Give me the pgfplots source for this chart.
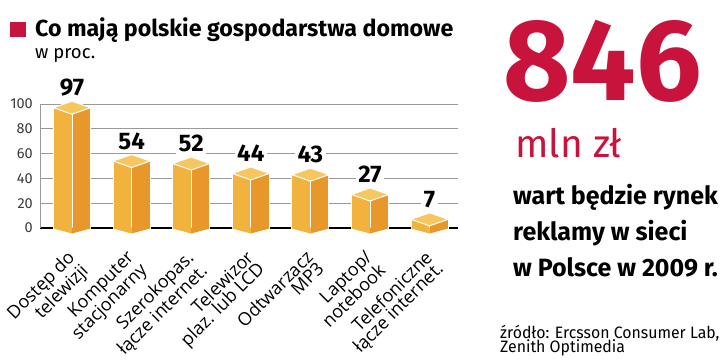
\documentclass[border=0pt]{standalone}
\usepackage{fontspec}
\usepackage{pgfplots}
\pgfplotsset{compat=1.18}
\setmainfont{Fira Sans}
\newfontfamily\opensans{Open Sans}
\definecolor{barL}{HTML}{F2B23E}
\definecolor{barR}{HTML}{E8982A}
\definecolor{barT}{HTML}{F7C65E}
\definecolor{crim}{HTML}{C8143C}
\definecolor{gridc}{HTML}{9A9A9A}
\definecolor{tickc}{HTML}{3A3A3A}
\pgfdeclareplotmark{cubetop}{%
  \pgfpathmoveto{\pgfpoint{-18.5bp}{0bp}}%
  \pgfpathlineto{\pgfpoint{0bp}{6.5bp}}%
  \pgfpathlineto{\pgfpoint{18.5bp}{0bp}}%
  \pgfpathlineto{\pgfpoint{0bp}{-6.5bp}}%
  \pgfpathclose
  \pgfusepath{fill,stroke}}
\pgfdeclareplotmark{cubebot}{%
  \pgfsetfillcolor{barL}%
  \pgfpathmoveto{\pgfpoint{-18.5bp}{0.5bp}}%
  \pgfpathlineto{\pgfpoint{0bp}{0.5bp}}%
  \pgfpathlineto{\pgfpoint{0bp}{-5.5bp}}%
  \pgfpathlineto{\pgfpoint{-18.5bp}{-0.5bp}}%
  \pgfpathclose
  \pgfusepath{fill}%
  \pgfsetfillcolor{barR}%
  \pgfpathmoveto{\pgfpoint{18.5bp}{0.5bp}}%
  \pgfpathlineto{\pgfpoint{0bp}{0.5bp}}%
  \pgfpathlineto{\pgfpoint{0bp}{-5.5bp}}%
  \pgfpathlineto{\pgfpoint{18.5bp}{-0.5bp}}%
  \pgfpathclose
  \pgfusepath{fill}}
\begin{document}
\begin{tikzpicture}
\useasboundingbox (0,0) rectangle (720bp,364bp);
% header
\fill[crim] (10bp,327bp) rectangle (26bp,342bp);
\node[anchor=base west, inner sep=0pt, font=\bfseries\fontsize{23.2bp}{26bp}\selectfont] at (35bp,327bp) {Co mają polskie gospodarstwa domowe};
\node[anchor=base west, inner sep=0pt, font=\fontsize{18.5bp}{20bp}\selectfont] at (35bp,305bp) {w proc.};
% right block
\node[anchor=base west, inner sep=0pt, text=crim, font=\bfseries\fontsize{116bp}{118bp}\selectfont] at (503bp,263bp) {846};
\node[anchor=base west, inner sep=0pt, text=crim, font=\fontsize{39bp}{40bp}\selectfont] at (515bp,206bp) {mln zł};
\node[anchor=base west, inner sep=0pt, font=\bfseries\fontsize{25bp}{28bp}\selectfont] at (513bp,159bp) {wart będzie rynek};
\node[anchor=base west, inner sep=0pt, font=\bfseries\fontsize{25bp}{28bp}\selectfont] at (513bp,123bp) {reklamy w sieci};
\node[anchor=base west, inner sep=0pt, font=\bfseries\fontsize{25bp}{28bp}\selectfont] at (513bp,87bp) {w Polsce w 2009 r.};
\node[anchor=base west, inner sep=0pt, font=\fontsize{16.5bp}{16bp}\selectfont] at (500bp,26bp) {\scalebox{0.96}[1]{źródło: Ercsson Consumer Lab,}};
\node[anchor=base west, inner sep=0pt, font=\fontsize{16.5bp}{16bp}\selectfont] at (500bp,12bp) {\scalebox{0.96}[1]{Zenith Optimedia}};
\begin{axis}[
  at={(40bp,136bp)}, anchor=south west,
  scale only axis, width=418bp, height=124bp,
  xmin=-0.537, xmax=6.477, ymin=0, ymax=100,
  clip=false,
  axis lines=left,
  axis line style={-},
  x axis line style={black, line width=1.8bp},
  y axis line style={gridc, line width=0.6bp},
  ymajorgrids, grid style={gridc, line width=0.7bp},
  major tick length=0pt,
  ytick={0,20,40,60,80,100},
  xtick={0,1,2,3,4,5,6},
  xticklabels={{Dostęp do\\telewizji},{Komputer\\stacjonarny},{Szerokopas.\\łącze internet.},{Telewizor\\plaz. lub LCD},{Odtwarzacz\\MP3},{Laptop/\\notebook},{Telefoniczne\\łącze internet.}},
  xticklabel style={xshift=-6bp, yshift=-21bp, rotate=45, anchor=north east, align=right, inner sep=0pt, font=\opensans\fontsize{18bp}{15.5bp}\selectfont, text=black},
  yticklabel style={anchor=east, inner sep=0pt, xshift=-7bp, font=\fontsize{14.5bp}{14bp}\selectfont, text=tickc},
  /pgf/number format/assume math mode=true,
]
\addplot[ybar, bar width=18.5bp, bar shift=-9.25bp, fill=barL, draw=white, line width=0.8bp] coordinates {(0,97) (1,54) (2,52) (3,44) (4,43) (5,27) (6,7)};
\addplot[ybar, bar width=18.5bp, bar shift=9.25bp, fill=barR, draw=white, line width=0.8bp] coordinates {(0,97) (1,54) (2,52) (3,44) (4,43) (5,27) (6,7)};
\addplot[only marks, mark=cubebot] coordinates {(0,0) (1,0) (2,0) (3,0) (4,0) (5,0) (6,0)};
\addplot[only marks, mark=cubetop, mark options={fill=barT, draw=white, line width=1bp},
  point meta=y, nodes near coords,
  every node near coord/.style={anchor=base, yshift=12bp, fill=white, inner sep=2.5bp, text=black, font=\bfseries\fontsize{24bp}{24bp}\selectfont}]
  coordinates {(0,97) (1,54) (2,52) (3,44) (4,43) (5,27) (6,7)};
\end{axis}
\end{tikzpicture}
\end{document}
